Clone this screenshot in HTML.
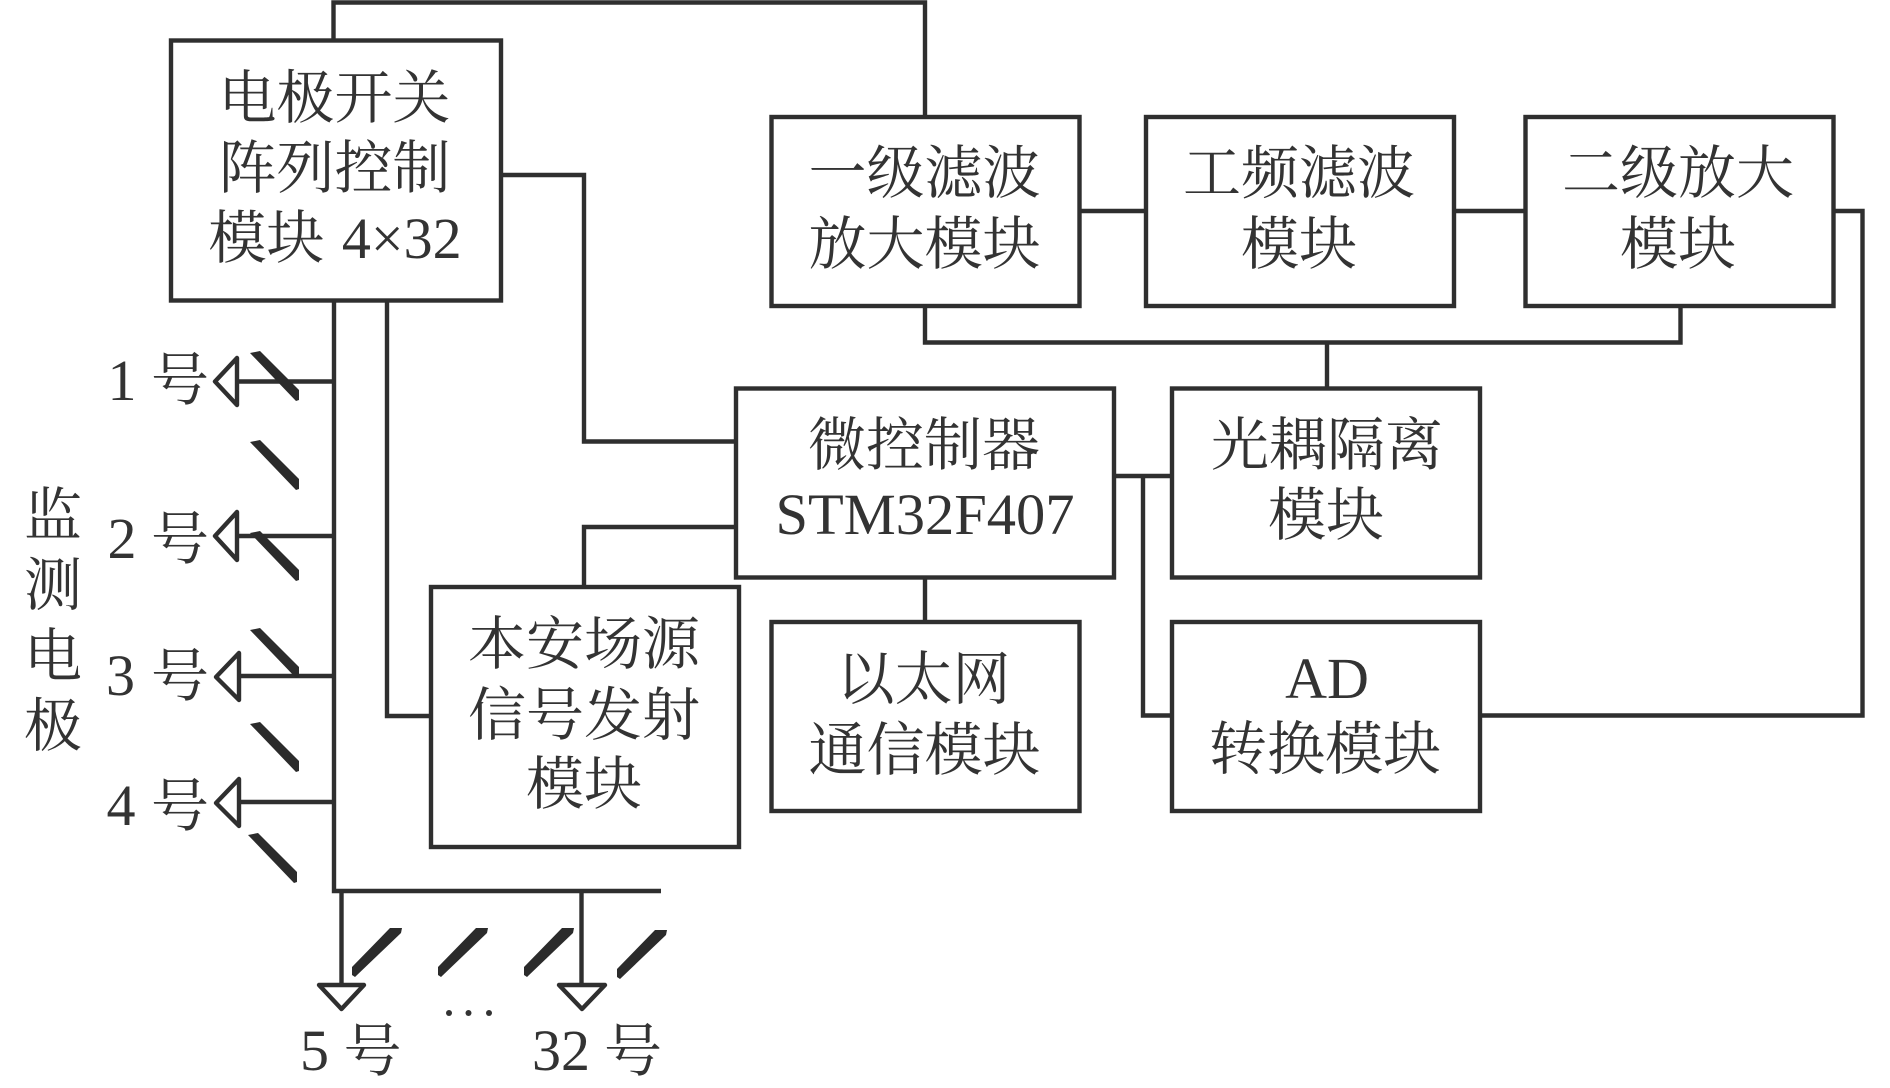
<!DOCTYPE html>
<html lang="zh">
<head>
<meta charset="utf-8">
<title>Diagram</title>
<style>
html,body{margin:0;padding:0;background:#fff;width:1890px;height:1088px;overflow:hidden}
svg{display:block}
text{font-family:"Liberation Serif","Noto Serif CJK SC",serif;font-size:58px;fill:#333;text-anchor:middle}
.b{fill:#fff;stroke:#2f2f2f;stroke-width:4.4}
.l{fill:none;stroke:#2f2f2f;stroke-width:4.4}
.d{fill:#2b2b2b}
.t{fill:#fff;stroke:#2f2f2f;stroke-width:4.4;stroke-linejoin:round}
</style>
</head>
<body>
<svg width="1890" height="1088" viewBox="0 0 1890 1088" xmlns="http://www.w3.org/2000/svg">
<!-- connectors -->
<path class="l" d="M333.5 41V2.5H925V117"/>
<path class="l" d="M501 175H584V441.5H736"/>
<path class="l" d="M334 300V891H661"/>
<path class="l" d="M387 300V716H431"/>
<path class="l" d="M584 587V527H736"/>
<path class="l" d="M1079 211H1146"/>
<path class="l" d="M1454 211H1525"/>
<path class="l" d="M925 306V342.5H1680.5V306"/>
<path class="l" d="M1327 342V388"/>
<path class="l" d="M1114 476H1172"/>
<path class="l" d="M1143 476V715.5H1172"/>
<path class="l" d="M925 577V622"/>
<path class="l" d="M1833 211H1862.5V715.5H1480"/>
<path class="l" d="M237 381.5H334"/>
<path class="l" d="M237 536H334"/>
<path class="l" d="M239 676H334"/>
<path class="l" d="M239 802H334"/>
<path class="l" d="M341.5 891V985"/>
<path class="l" d="M581.5 891V985"/>
<!-- boxes -->
<rect class="b" x="171" y="40.5" width="330" height="260"/>
<rect class="b" x="771.5" y="117" width="308" height="189"/>
<rect class="b" x="1146" y="117" width="308" height="189"/>
<rect class="b" x="1525.5" y="117" width="308" height="189"/>
<rect class="b" x="736" y="388.5" width="378" height="189"/>
<rect class="b" x="1172" y="388.5" width="308" height="189"/>
<rect class="b" x="1172" y="622" width="308" height="189"/>
<rect class="b" x="771.5" y="622" width="308" height="189"/>
<rect class="b" x="431" y="587" width="308" height="260"/>
<!-- triangles -->
<polygon class="t" points="237,358 215,381.5 237,405"/>
<polygon class="t" points="237,512 215,536 237,560"/>
<polygon class="t" points="239,653 216,677 239,700"/>
<polygon class="t" points="239,779 216,803 239,826"/>
<polygon class="t" points="319,985 364,985 341.5,1009"/>
<polygon class="t" points="559,985 605,985 582,1009"/>
<!-- diagonal switches -->
<polygon class="d" transform="translate(250,351)" points="0,2 10,0 49,39 49,49 46,50"/>
<polygon class="d" transform="translate(250,440)" points="0,2 10,0 49,39 49,49 46,50"/>
<polygon class="d" transform="translate(250,531)" points="0,2 10,0 49,39 49,49 46,50"/>
<polygon class="d" transform="translate(250,628)" points="0,2 10,0 49,39 49,49 46,50"/>
<polygon class="d" transform="translate(250,722)" points="0,2 10,0 49,39 49,49 46,50"/>
<polygon class="d" transform="translate(248,833)" points="0,2 10,0 49,39 49,49 46,50"/>
<polygon class="d" transform="translate(352,928)" points="0,39 38,0 50,0 49,5 3,49 0,47"/>
<polygon class="d" transform="translate(438,928)" points="0,39 38,0 50,0 49,5 3,49 0,47"/>
<polygon class="d" transform="translate(524,928)" points="0,39 38,0 50,0 49,5 3,49 0,47"/>
<polygon class="d" transform="translate(617,930)" points="0,39 38,0 50,0 49,5 3,49 0,47"/>
<circle cx="449" cy="1013" r="3" fill="#333"/>
<circle cx="468.5" cy="1013" r="3" fill="#333"/>
<circle cx="489" cy="1013" r="3" fill="#333"/>
<!-- box text -->
<text x="334.5" y="118">电极开关</text>
<text x="334.5" y="188">阵列控制</text>
<text x="335" y="258" style="word-spacing:3px">模块 4×32</text>
<text x="924.5" y="193">一级滤波</text>
<text x="924.5" y="264">放大模块</text>
<text x="1299" y="193">工频滤波</text>
<text x="1299" y="264">模块</text>
<text x="1678" y="193">二级放大</text>
<text x="1678" y="264">模块</text>
<text x="924" y="465">微控制器</text>
<text x="925" y="534" style="font-size:58.5px">STM32F407</text>
<text x="1327" y="465">光耦隔离</text>
<text x="1326" y="535">模块</text>
<text x="1327" y="698">AD</text>
<text x="1325" y="769">转换模块</text>
<text x="923.5" y="699">以太网</text>
<text x="924.5" y="770">通信模块</text>
<text x="584" y="664">本安场源</text>
<text x="584" y="735">信号发射</text>
<text x="584" y="804">模块</text>
<!-- side labels -->
<text x="122" y="400">1</text><text x="180" y="400">号</text>
<text x="122" y="558">2</text><text x="180" y="559">号</text>
<text x="120.5" y="695">3</text><text x="180" y="696">号</text>
<text x="121" y="825">4</text><text x="180" y="826">号</text>
<text x="314.5" y="1070">5</text><text x="372.5" y="1071">号</text>
<text x="561" y="1070">32</text><text x="633" y="1071">号</text>
<text x="53" y="535">监</text>
<text x="53" y="605">测</text>
<text x="53" y="676">电</text>
<text x="53" y="746">极</text>
</svg>
</body>
</html>
